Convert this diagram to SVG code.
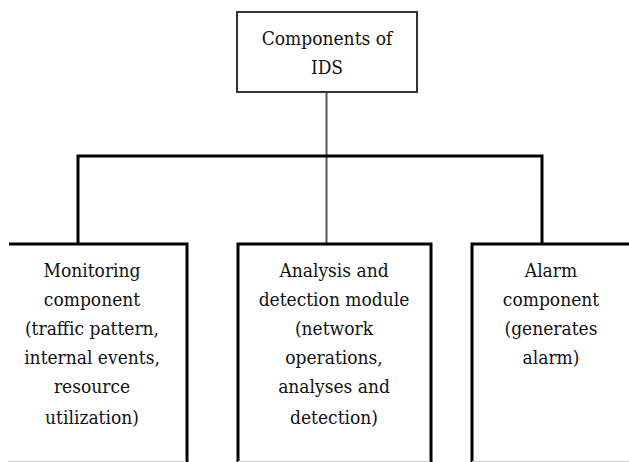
<svg xmlns="http://www.w3.org/2000/svg" width="629" height="462" viewBox="0 0 629 462">
<style>
  .t { font-family: "DejaVu Serif Condensed", "DejaVu Serif", serif; font-stretch: condensed; font-size: 19px; fill: #111; text-anchor: middle; }
  .open { fill: none; stroke: #000; stroke-width: 3; }
  .edge { fill: none; stroke: #ccc; stroke-width: 1; }
  .thin { fill: none; stroke: #555; stroke-width: 2; }
  .bus { fill: none; stroke: #000; stroke-width: 3; }
</style>
<rect width="629" height="462" fill="#fff"/>
<g id="connectors">
  <line class="thin" x1="326.5" y1="92" x2="326.5" y2="244"/>
  <polyline class="bus" points="78,244 78,156 542,156 542,244"/>
</g>
<g id="root">
  <rect x="237" y="12" width="180" height="80" fill="#fff" stroke="#333" stroke-width="2"/>
  <text class="t" x="327" y="45">Components of</text>
  <text class="t" x="327" y="74">IDS</text>
</g>
<g id="monitoring">
  <polyline class="open" points="9,244 187,244 187,462"/>
  <line class="edge" x1="8" y1="461.5" x2="186" y2="461.5"/>
  <text class="t" x="92" y="277">Monitoring</text>
  <text class="t" x="92" y="306">component</text>
  <text class="t" x="92" y="335">(traffic pattern,</text>
  <text class="t" x="92" y="364">internal events,</text>
  <text class="t" x="92" y="393">resource</text>
  <text class="t" x="92" y="424">utilization)</text>
</g>
<g id="analysis">
  <polyline class="open" points="238,462 238,244 431,244 431,462"/>
  <line class="edge" x1="238" y1="461.5" x2="430" y2="461.5"/>
  <text class="t" x="334" y="277">Analysis and</text>
  <text class="t" x="334" y="306">detection module</text>
  <text class="t" x="334" y="335">(network</text>
  <text class="t" x="334" y="364">operations,</text>
  <text class="t" x="334" y="393">analyses and</text>
  <text class="t" x="334" y="424">detection)</text>
</g>
<g id="alarm">
  <polyline class="open" points="472,462 472,244 632,244"/>
  <line class="edge" x1="472" y1="461.5" x2="629" y2="461.5"/>
  <text class="t" x="551" y="277">Alarm</text>
  <text class="t" x="551" y="306">component</text>
  <text class="t" x="551" y="335">(generates</text>
  <text class="t" x="551" y="364">alarm)</text>
</g>
</svg>
